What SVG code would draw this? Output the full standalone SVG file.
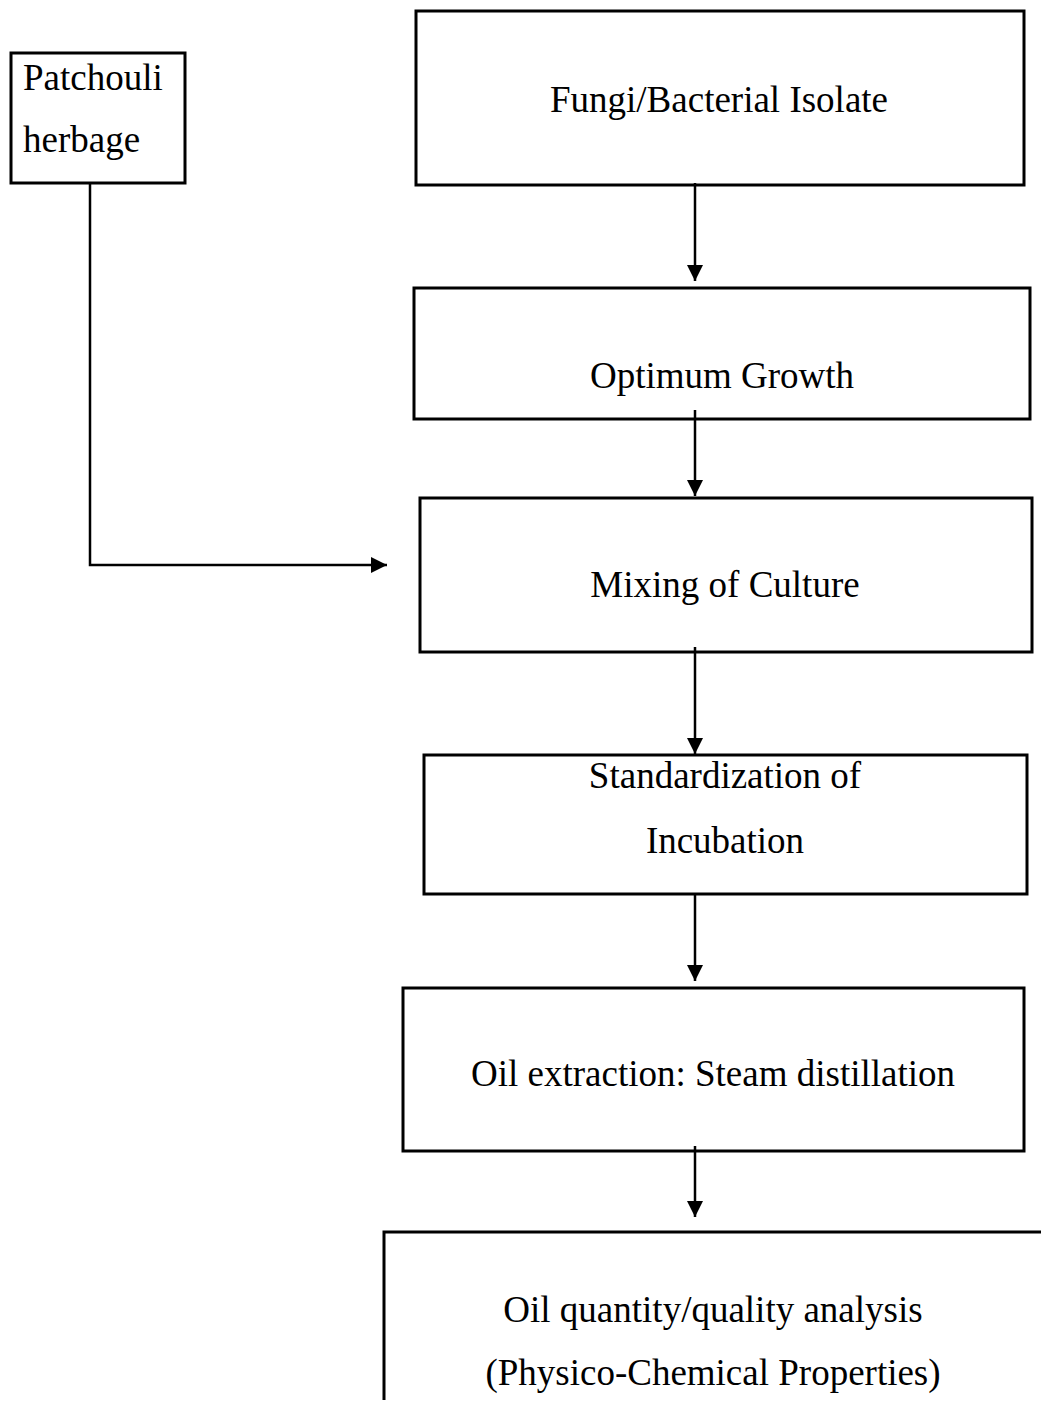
<svg xmlns="http://www.w3.org/2000/svg" width="1041" height="1411" viewBox="0 0 1041 1411">
<style>
.box{fill:none;stroke:#000;stroke-width:3}
.t{font-family:"Liberation Serif","Times New Roman",serif;font-size:37px;fill:#000}
.c{text-anchor:middle}
.edge{fill:none;stroke:#000;stroke-width:2.5}
</style>
<defs>
<marker id="ah" viewBox="0 0 16 16" refX="16" refY="8" markerWidth="16" markerHeight="16" markerUnits="userSpaceOnUse" orient="auto">
<path d="M0,0 L16,8 L0,16 Z" fill="#000"/>
</marker>
</defs>
<rect width="1041" height="1411" fill="#fff"/>
<g id="connectors">
<path class="edge" d="M90,183 V565 H387" marker-end="url(#ah)"/>
<path class="edge" d="M695,183 V281" marker-end="url(#ah)"/>
<path class="edge" d="M695,410 V496" marker-end="url(#ah)"/>
<path class="edge" d="M695,647 V754" marker-end="url(#ah)"/>
<path class="edge" d="M695,894 V981" marker-end="url(#ah)"/>
<path class="edge" d="M695,1146 V1217" marker-end="url(#ah)"/>
</g>
<g id="patchouli">
<rect class="box" x="11" y="53" width="174" height="130"/>
<text class="t" x="23" y="90">Patchouli</text>
<text class="t" x="23" y="152">herbage</text>
</g>
<g id="isolate">
<rect class="box" x="416" y="11" width="608" height="174"/>
<text class="t c" x="719" y="112">Fungi/Bacterial Isolate</text>
</g>
<g id="growth">
<rect class="box" x="414" y="288" width="616" height="131"/>
<text class="t c" x="722" y="388">Optimum Growth</text>
</g>
<g id="mixing">
<rect class="box" x="420" y="498" width="612" height="154"/>
<text class="t c" x="725" y="597">Mixing of Culture</text>
</g>
<g id="incubation">
<rect class="box" x="424" y="755" width="603" height="139"/>
<text class="t c" x="725" y="788">Standardization of</text>
<text class="t c" x="725" y="853">Incubation</text>
</g>
<g id="extraction">
<rect class="box" x="403" y="988" width="621" height="163"/>
<text class="t c" x="713" y="1086">Oil extraction: Steam distillation</text>
</g>
<g id="analysis">
<path class="box" d="M1041,1232 H384 V1400"/>
<text class="t c" x="713" y="1322">Oil quantity/quality analysis</text>
<text class="t c" x="713" y="1385">(Physico-Chemical Properties)</text>
</g>
</svg>
